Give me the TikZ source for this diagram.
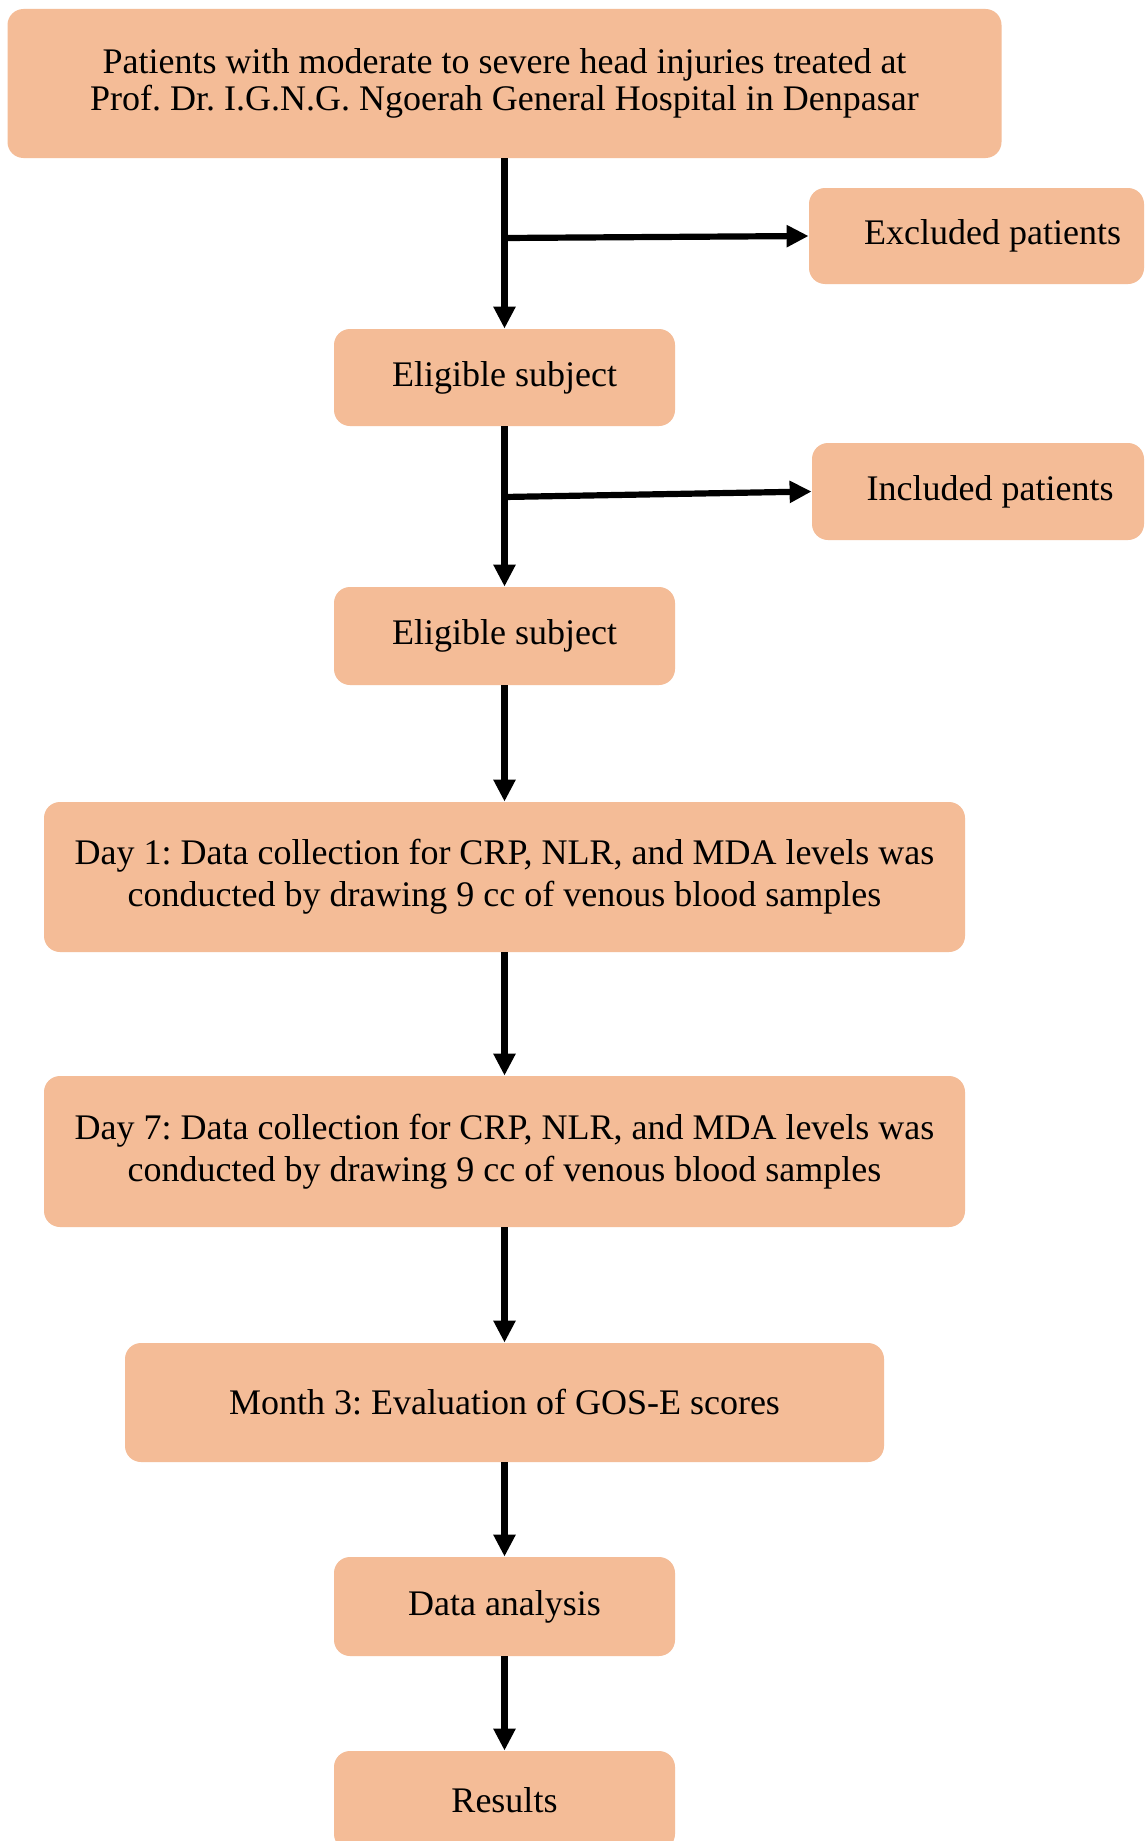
\documentclass[tikz,border=0pt]{standalone}
\usepackage{fontspec}
\setmainfont{Liberation Serif}
\usetikzlibrary{arrows.meta}
\definecolor{peach}{HTML}{F4BC97}
\begin{document}
\frenchspacing
\begin{tikzpicture}[x=0.5pt,y=-0.5pt,
  box/.style={fill=peach, draw=none, rounded corners=8pt, align=center, inner sep=0pt,
    font=\fontsize{18}{18.8}\selectfont},
  widebox/.style={box, font=\fontsize{18}{21}\selectfont},
  conn/.style={line width=3.1pt, -{Triangle[length=11pt,width=10.5pt]}}]
\useasboundingbox (0,0) rectangle (1145,1841);
\clip (0,0) rectangle (1145,1841);
\fill[white] (0,0) rectangle (1145,1841);

\node[box, minimum width=497pt, minimum height=74.5pt] (top) at (504.5,83.5)
  {\raisebox{-1pt}{}Patients with moderate to severe head injuries treated at\\Prof. Dr. I.G.N.G. Ngoerah General Hospital in Denpasar};
\node[box, minimum width=167.5pt, minimum height=48pt] (excl) at (976.5,236) {\hspace*{16pt}Excluded patients};
\node[box, minimum width=170.5pt, minimum height=48.5pt] (elig1) at (504.5,377.5) {Eligible subject};
\node[box, minimum width=166pt, minimum height=48.5pt] (incl) at (978,491.5) {\hspace*{12pt}Included patients};
\node[box, minimum width=170.5pt, minimum height=49pt] (elig2) at (504.5,636) {Eligible subject};
\node[widebox, minimum width=460.5pt, minimum height=75pt] (day1) at (504.5,877)
  {Day 1: Data collection for CRP, NLR, and MDA levels was\\conducted by drawing 9 cc of venous blood samples};
\node[widebox, minimum width=460.5pt, minimum height=75.5pt] (day7) at (504.5,1151.5)
  {Day 7: Data collection for CRP, NLR, and MDA levels was\\conducted by drawing 9 cc of venous blood samples};
\node[box, minimum width=379.5pt, minimum height=59.5pt] (month3) at (504.5,1402.5)
  {Month 3: Evaluation of GOS-E scores};
\node[box, minimum width=170.5pt, minimum height=49.5pt] (data) at (504.5,1606.5) {Data analysis};
\node[box, minimum width=170.5pt, minimum height=49.5pt] (res) at (504.5,1800.5) {Results};

\coordinate (b1) at (504.5,238);
\coordinate (b2) at (504.5,497);

\draw[conn] (top.south) -- (elig1.north);
\draw[conn] (b1) -- (excl.west);
\draw[conn] (elig1.south) -- (elig2.north);
\draw[conn] (b2) -- (incl.west);
\draw[conn] (elig2.south) -- (day1.north);
\draw[conn] (day1.south) -- (day7.north);
\draw[conn] (day7.south) -- (month3.north);
\draw[conn] (month3.south) -- (data.north);
\draw[conn] (data.south) -- (res.north);
\end{tikzpicture}
\end{document}
